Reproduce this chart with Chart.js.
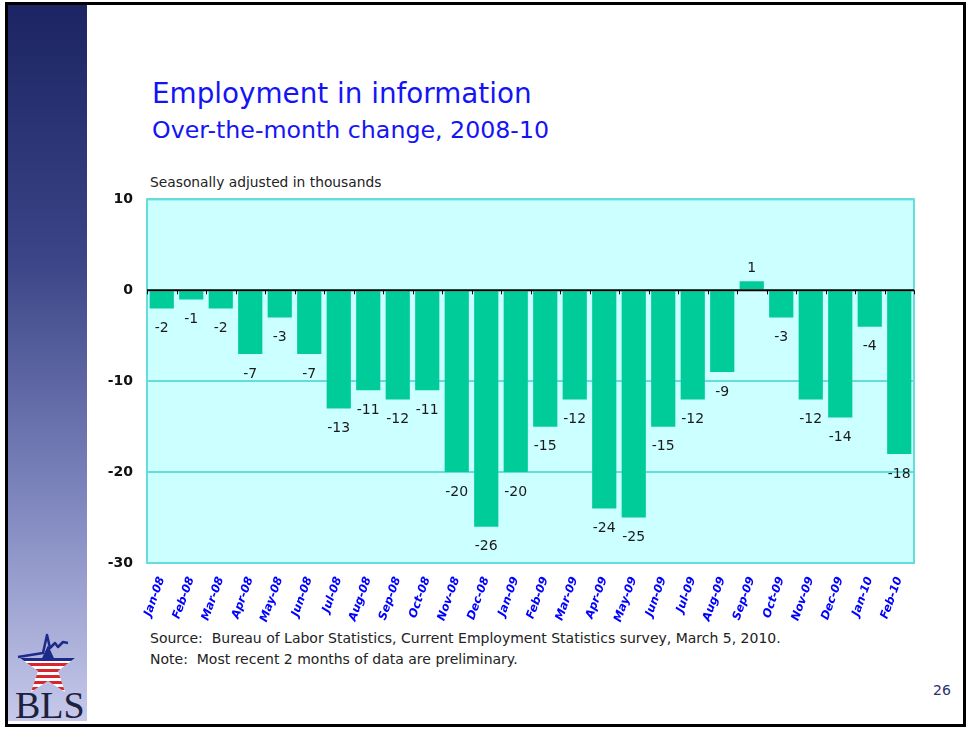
<!DOCTYPE html>
<html>
<head>
<meta charset="utf-8">
<script src="https://cdn.jsdelivr.net/npm/chart.js@4"></script>
<style>
  html, body { margin: 0; padding: 0; background: #fff; }
  body { width: 968px; height: 729px; position: relative; overflow: hidden; font-family: "DejaVu Sans", sans-serif; }
  .frame { position: absolute; left: 5px; top: 2px; width: 955px; height: 719px; border: 3px solid #000; }
  .sidebar { position: absolute; left: 8px; top: 5px; width: 79px; height: 716px;
    background: linear-gradient(to bottom, #1c2463 0%, #3a4486 35%, #8088bf 70%, #c6c9ea 100%); }
  .txt { position: absolute; white-space: pre; line-height: 1; }
  #title { left: 152px; top: 80px; font-size: 27.8px; color: #1414f5; }
  #subtitle { left: 152px; top: 119px; font-size: 23.7px; color: #1414f5; }
  #units { left: 150px; top: 176px; font-size: 13.8px; color: #222; }
  #source { left: 150px; top: 631px; font-size: 14px; color: #222; }
  #note { left: 150px; top: 652px; font-size: 14px; color: #222; }
  #page { left: 933px; top: 683px; font-size: 14px; color: #2a3070; }
  #chartBox { position: absolute; left: 100px; top: 177px; width: 830px; height: 453px; }
  #logo { position: absolute; left: 8px; top: 625px; }
</style>
</head>
<body>
<div class="sidebar"></div>
<div class="frame"></div>
<div class="txt" id="title">Employment in information</div>
<div class="txt" id="subtitle">Over-the-month change, 2008-10</div>
<div class="txt" id="units">Seasonally adjusted in thousands</div>
<div class="txt" id="source">Source:  Bureau of Labor Statistics, Current Employment Statistics survey, March 5, 2010.</div>
<div class="txt" id="note">Note:  Most recent 2 months of data are preliminary.</div>
<div class="txt" id="page">26</div>
<svg id="logo" width="82" height="98" viewBox="0 0 82 98">
  <defs>
    <clipPath id="star">
      <polygon points="40,20 46,33 67,33 50,46 57,67 40,56 23,67 30,46 12,33 34,33"/>
    </clipPath>
  </defs>
  <g clip-path="url(#star)">
    <rect x="0" y="15" width="82" height="56" fill="#fff"/>
    <rect x="0" y="15" width="82" height="21" fill="#1e2a8a"/>
    <rect x="0" y="38" width="82" height="3" fill="#d8262c"/>
    <rect x="0" y="44" width="82" height="3" fill="#d8262c"/>
    <rect x="0" y="50" width="82" height="3" fill="#d8262c"/>
    <rect x="0" y="56" width="82" height="3" fill="#d8262c"/>
    <rect x="0" y="62" width="82" height="3" fill="#d8262c"/>
  </g>
  <polyline points="10,32 35,28 39,10 42,23 47,18 50,22 55,17 60,18" fill="none" stroke="#1e2a8a" stroke-width="2.5" stroke-linejoin="round"/>
  <text x="7" y="93" font-family="Liberation Serif, serif" font-size="38" fill="#1c2140">BLS</text>
</svg>
<div id="chartBox"><canvas id="chart" width="830" height="453"></canvas></div>
<script>
const months = ['Jan-08','Feb-08','Mar-08','Apr-08','May-08','Jun-08','Jul-08','Aug-08','Sep-08','Oct-08',
  'Nov-08','Dec-08','Jan-09','Feb-09','Mar-09','Apr-09','May-09','Jun-09','Jul-09','Aug-09',
  'Sep-09','Oct-09','Nov-09','Dec-09','Jan-10','Feb-10'];
const changes = [-2, -1, -2, -7, -3, -7, -13, -11, -12, -11, -20, -26, -20, -15, -12, -24, -25, -15, -12, -9,
  1, -3, -12, -14, -4, -18];
const yTicks = [10, 0, -10, -20, -30];

const barColor = '#00cc99';
const gridColor = '#66dddd';
const plotBg = '#ccffff';

// paints the plot background, the border, the zero line with its small ticks and the value labels
const slidePlugin = {
  id: 'slide',
  beforeDraw(chart) {
    const a = chart.chartArea, ctx = chart.ctx;
    ctx.save();
    ctx.fillStyle = plotBg;
    ctx.fillRect(a.left, a.top, a.right - a.left, a.bottom - a.top);
    ctx.restore();
  },
  afterDatasetsDraw(chart) {
    const a = chart.chartArea, ctx = chart.ctx;
    const x = chart.scales.x, y = chart.scales.y;
    const y0 = y.getPixelForValue(0);
    ctx.save();
    // border
    ctx.strokeStyle = gridColor;
    ctx.lineWidth = 2;
    ctx.strokeRect(a.left, a.top, a.right - a.left, a.bottom - a.top);
    // zero line + ticks at category boundaries
    ctx.strokeStyle = '#000';
    ctx.lineWidth = 2;
    ctx.beginPath();
    ctx.moveTo(a.left, y0);
    ctx.lineTo(a.right, y0);
    ctx.stroke();
    ctx.lineWidth = 1;
    const step = (a.right - a.left) / months.length;
    ctx.beginPath();
    for (let i = 0; i <= months.length; i++) {
      const px = Math.round(x.getPixelForValue(i) - step / 2) + 0.5;
      ctx.moveTo(px, y0);
      ctx.lineTo(px, y0 + 4);
    }
    ctx.stroke();
    // value labels
    ctx.fillStyle = '#1a1a1a';
    ctx.font = '14px "DejaVu Sans"';
    ctx.textAlign = 'center';
    ctx.textBaseline = 'middle';
    chart.getDatasetMeta(0).data.forEach((bar, i) => {
      const v = changes[i];
      const ty = v < 0 ? bar.y + 20 : bar.y - 13;
      ctx.fillText(String(v), bar.x, ty);
    });
    ctx.restore();
  }
};

new Chart(document.getElementById('chart'), {
  type: 'bar',
  data: {
    labels: months,
    datasets: [{
      data: changes,
      backgroundColor: barColor,
      borderWidth: 0,
      barPercentage: 0.82,
      categoryPercentage: 1.0
    }]
  },
  options: {
    responsive: false,
    animation: false,
    layout: { padding: { top: 9, right: 16, left: 0, bottom: 0 } },
    plugins: { legend: { display: false }, tooltip: { enabled: false } },
    scales: {
      x: {
        offset: true,
        grid: { display: false, drawTicks: false },
        border: { display: false },
        afterFit(scale) { scale.height = 67; },
        ticks: {
          minRotation: 70,
          maxRotation: 70,
          autoSkip: false,
          padding: 12,
          color: '#0000ff',
          font: { family: 'DejaVu Sans', size: 11.5, weight: 'bold', style: 'italic' }
        }
      },
      y: {
        min: -30,
        max: 10,
        afterFit(scale) { scale.width = 47; },
        afterBuildTicks(scale) { scale.ticks = yTicks.map(v => ({ value: v })); },
        grid: {
          drawTicks: false,
          color: ctx => ctx.tick && ctx.tick.value === 0 ? 'rgba(0,0,0,0)' : gridColor,
          lineWidth: 2
        },
        border: { display: false },
        ticks: {
          padding: 14,
          color: '#111',
          font: { family: 'DejaVu Sans', size: 14, weight: 'bold' }
        }
      }
    }
  },
  plugins: [slidePlugin]
});
</script>
</body>
</html>
